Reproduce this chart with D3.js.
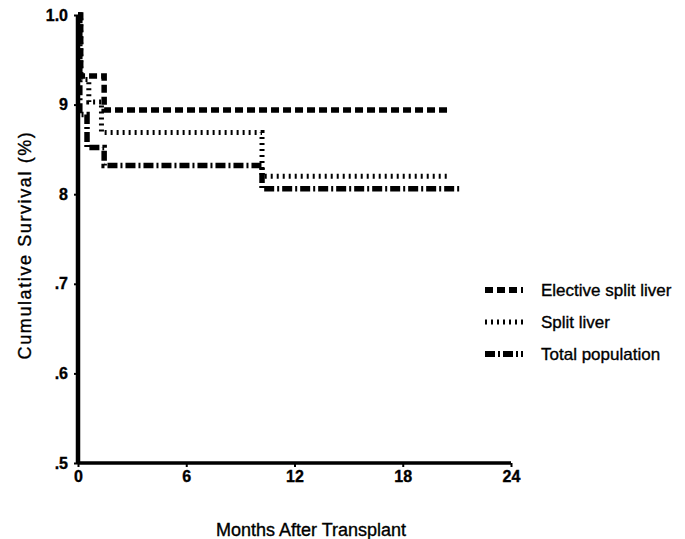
<!DOCTYPE html>
<html>
<head>
<meta charset="utf-8">
<script src="https://cdn.jsdelivr.net/npm/d3@7"></script>
<style>
  body { margin: 0; background: #fff; }
  svg { display: block; font-family: 'Liberation Sans', Arial, sans-serif; }
  text { stroke: #000; stroke-width: 0.35px; }
</style>
</head>
<body>
<svg id="chart" width="685" height="539"></svg>
<script>
// ***** Data ***** //
var electiveMonths = [0, 0.15, 1.45, 20.5];
var electiveSurv   = [1.0, 0.932, 0.894, 0.894];

var splitMonths = [0, 0.15, 0.6, 1.3, 10.2, 20.5];
var splitSurv   = [1.0, 0.928, 0.903, 0.869, 0.820, 0.820];

var totalMonths = [0, 0.1, 0.5, 1.45, 10.2, 21.2];
var totalSurv   = [1.0, 0.889, 0.852, 0.832, 0.806, 0.806];

var xTicks = [0, 6, 12, 18, 24];
var yTicks = [0.5, 0.6, 0.7, 0.8, 0.9, 1.0];
var yTickLabels = ['.5', '.6', '.7', '8', '9', '1.0'];

var seriesNames = ['Elective split liver', 'Split liver', 'Total population'];
var seriesDash  = ['8,4', '2,4', '10,3,2,3'];

// ***** Scales ***** //
var svg = d3.select('#chart');
var x = d3.scaleLinear().domain([0, 24]).range([78, 511]);
var y = d3.scaleLinear().domain([0.5, 1.0]).range([463, 15]);

// ***** Axes ***** //
var yAxis = svg.append('g')
    .attr('transform', 'translate(' + x(0) + ',0)')
    .call(d3.axisLeft(y).tickValues(yTicks).tickSize(4).tickPadding(6)
        .tickFormat((d, i) => yTickLabels[i]));

var xAxis = svg.append('g')
    .attr('transform', 'translate(0,' + y(0.5) + ')')
    .call(d3.axisBottom(x).tickValues(xTicks).tickSize(4).tickPadding(4)
        .tickSizeOuter(0));

yAxis.select('.domain').attr('stroke-width', 4.5).attr('d', 'M0,' + y(1.0) + 'V' + y(0.5));
xAxis.select('.domain').attr('stroke-width', 3.5).attr('d', 'M' + x(0) + ',0H' + x(24));
svg.selectAll('.tick line').attr('stroke-width', 2);
svg.selectAll('.tick text')
    .attr('font-family', "'Liberation Sans', Arial, sans-serif")
    .attr('font-size', 16)
    .attr('font-weight', 'bold')
    .attr('fill', '#000');

// ***** Survival curves ***** //
var line = d3.line()
    .x(d => x(d[0]))
    .y(d => y(d[1]))
    .curve(d3.curveStepAfter);

var series = [
    d3.zip(electiveMonths, electiveSurv),
    d3.zip(splitMonths, splitSurv),
    d3.zip(totalMonths, totalSurv)
];

series.forEach(function (pts, i) {
    svg.append('path')
        .datum(pts)
        .attr('d', line)
        .attr('fill', 'none')
        .attr('stroke', '#000')
        .attr('stroke-width', i == 1 ? 5 : 5.5)
        .attr('stroke-dasharray', seriesDash[i]);
});

// ***** Axis titles ***** //
svg.append('text')
    .attr('x', 311)
    .attr('y', 536)
    .attr('text-anchor', 'middle')
    .attr('font-size', 18)
    .text('Months After Transplant');

svg.append('text')
    .attr('transform', 'translate(31,245) rotate(-90)')
    .attr('text-anchor', 'middle')
    .attr('font-size', 18)
    .attr('letter-spacing', 1.6)
    .text('Cumulative Survival (%)');

// ***** Legend ***** //
var legend = svg.append('g');
seriesNames.forEach(function (name, i) {
    var ly = 290 + i * 32;
    legend.append('line')
        .attr('x1', 485).attr('x2', 523)
        .attr('y1', ly).attr('y2', ly)
        .attr('stroke', '#000')
        .attr('stroke-width', i == 1 ? 5 : 6)
        .attr('stroke-dasharray', seriesDash[i]);
    legend.append('text')
        .attr('x', 541)
        .attr('y', ly)
        .attr('dy', '0.35em')
        .attr('font-size', 17)
        .text(name);
});
</script>
</body>
</html>
